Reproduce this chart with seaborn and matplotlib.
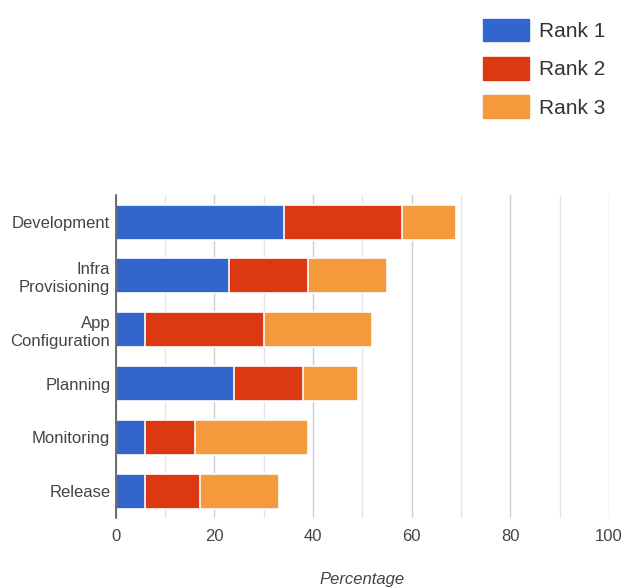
import numpy as np
import pandas as pd
import seaborn as sns
import matplotlib.pyplot as plt
from matplotlib.patches import Patch

categories = ["Development", "Infra\nProvisioning", "App\nConfiguration", "Planning", "Monitoring", "Release"]
rank1 = [34, 23, 6, 24, 6, 6]
rank2 = [24, 16, 24, 14, 10, 11]
rank3 = [11, 16, 22, 11, 23, 16]
series_names = ["Rank 1", "Rank 2", "Rank 3"]
colors = ["#3366cc", "#dc3912", "#f4993c"]
xticks = [0, 20, 40, 60, 80, 100]

sns.set_theme(style="white")
plt.rcParams['font.family'] = ['Liberation Sans', 'DejaVu Sans']

fig = plt.figure(figsize=(6.26, 5.88), dpi=100)
ax = fig.add_axes([0.185, 0.119, 0.788, 0.549])

# stacked: draw cumulative totals back to front
cum = np.cumsum(np.array([rank1, rank2, rank3]), axis=0)
for i in range(2, -1, -1):
    df = pd.DataFrame({"cat": categories, "val": cum[i]})
    sns.barplot(data=df, x="val", y="cat", order=categories, color=colors[i],
                saturation=1, width=0.65, edgecolor="white", linewidth=1.2, ax=ax, zorder=3)

ax.set_xlim(0, 100)
ax.set_xticks(np.arange(0, 101, 10), minor=True)
ax.set_xticks(xticks)
ax.grid(axis="x", which="major", color="#d0d0d0", linewidth=1, zorder=0)
ax.grid(axis="x", which="minor", color="#e4e4e4", linewidth=1, zorder=0)
ax.set_axisbelow(True)
for s in ["top", "right", "bottom"]:
    ax.spines[s].set_visible(False)
ax.spines["left"].set_color("#555555")
ax.spines["left"].set_linewidth(1.2)
ax.spines["left"].set_zorder(5)
ax.tick_params(axis="both", which="both", length=0, labelsize=12, labelcolor="#444444")
ax.tick_params(axis="x", pad=8)
ax.tick_params(axis="y", pad=4)
ax.set_ylabel("")
ax.set_xlabel("Percentage", fontsize=12, style="italic", color="#444444", labelpad=20)

handles = [Patch(facecolor=c, edgecolor=c) for c in colors]
fig.legend(handles, series_names, loc="upper left", bbox_to_anchor=(0.742, 1.0),
           frameon=False, fontsize=15, handlelength=2.2, handleheight=1.3,
           handletextpad=0.5, labelspacing=0.75, labelcolor="#333333")

fig.savefig("out.png", dpi=100)
